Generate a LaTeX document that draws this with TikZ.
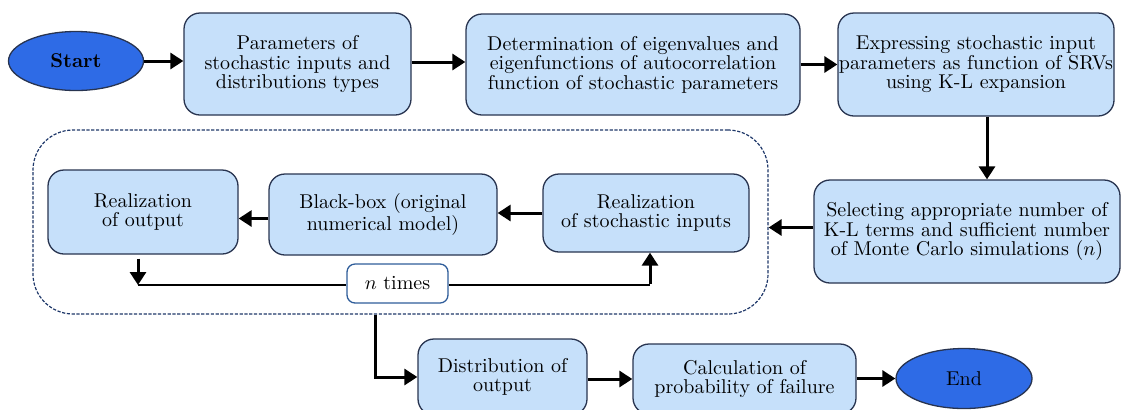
\documentclass[tikz,border=0pt]{standalone}
\usetikzlibrary{arrows.meta,shapes.geometric}
\definecolor{boxfill}{RGB}{198,224,250}
\definecolor{boxdraw}{RGB}{40,52,80}
\definecolor{ellfill}{RGB}{46,107,230}
\definecolor{dashdraw}{RGB}{30,55,105}
\definecolor{ntdraw}{RGB}{47,93,154}
\begin{document}
\begin{tikzpicture}[x=0.5pt,y=-0.5pt,
  font=\fontsize{10}{9.8}\selectfont,
  procbox/.style={draw=boxdraw, fill=boxfill, rounded corners=8pt, line width=0.65pt, align=center, inner sep=0pt},
  term/.style={ellipse, draw=boxdraw, fill=ellfill, line width=0.65pt, inner sep=0pt},
  flow/.style={line width=1.5pt, -{Triangle[length=6.5pt,width=8pt]}},
  loopline/.style={line width=0.85pt},
  frame/.style={draw=dashdraw, dash pattern=on 1.6pt off 0.8pt, line width=0.6pt, rounded corners=20pt, inner sep=0pt},
  counter/.style={draw=ntdraw, fill=white, rounded corners=4pt, line width=0.65pt, inner sep=0pt}
]
\useasboundingbox (0,0) rectangle (1122,409);

\node[frame, minimum width=367.5pt, minimum height=92pt] (loop) at (400.5,222) {};

\node[term, minimum width=67.5pt, minimum height=29.5pt, font=\fontsize{10}{10}\selectfont\bfseries] (start) at (76,61) {Start};
\node[procbox, minimum width=113.5pt, minimum height=51pt] (p1) at (297.5,64) {Parameters of\\stochastic inputs and\\distributions types};
\node[procbox, minimum width=167pt, minimum height=50.5pt] (p2) at (633,64.5) {Determination of eigenvalues and\\eigenfunctions of autocorrelation\\function of stochastic parameters};
\node[procbox, minimum width=138pt, minimum height=51.5pt] (p3) at (976,64.5) {Expressing stochastic input\\parameters as function of SRVs\\using K-L expansion};
\node[procbox, minimum width=153pt, minimum height=51.5pt] (p4) at (967,231.5) {Selecting appropriate number of\\K-L terms and sufficient number\\of Monte Carlo simulations ($n$)};
\node[procbox, minimum width=103pt, minimum height=39pt] (p5) at (646,213) {Realization\\of stochastic inputs};
\node[procbox, minimum width=114pt, minimum height=40.5pt] (p6) at (383,214.5) {Black-box (original\\numerical model)};
\node[procbox, minimum width=95pt, minimum height=42pt] (p7) at (143,212) {Realization\\of output};
\node[counter, minimum width=50.5pt, minimum height=19.5pt] (nt) at (397.5,283.5) {$n$ times};
\node[procbox, minimum width=84.5pt, minimum height=38pt] (p8) at (502.5,377) {Distribution of\\output};
\node[procbox, minimum width=111.5pt, minimum height=35pt] (p9) at (744.5,379) {Calculation of\\probability of failure};
\node[term, minimum width=68pt, minimum height=30pt] (end) at (964,378.5) {End};

\coordinate (c1) at (138,285);
\coordinate (c2) at (650,285);

\draw[flow] (start.east) -- (start.east -| p1.west);
\draw[flow] ([yshift=1pt]p1.east) -- ([yshift=1pt]p1.east -| p2.west);
\draw[flow] (p2.east) -- (p3.west);
\draw[flow] ([xshift=5.5pt]p3.south) -- ([xshift=5.5pt]p3.south |- p4.north);
\draw[flow] ([yshift=2pt]p4.west) -- ([yshift=2pt]p4.west -| loop.east);
\draw[flow] (p5.west) -- (p5.west -| p6.east);
\draw[flow] ([yshift=-2pt]p6.west) -- ([yshift=-2pt]p6.west -| p7.east);
\draw[flow, shorten <=2pt] (p7.south -| c1) -- (c1);
\draw[loopline] (c1) -- (c1 -| nt.west);
\draw[loopline] (c1 -| nt.east) -- (c2);
\draw[flow] ([yshift=0.4pt]c2) -- (c2 |- p5.south);
\draw[flow] ([xshift=-12.75pt]loop.south) |- (p8.west);
\draw[flow] (p8.east |- p9.west) -- (p9.west);
\draw[flow] (end.west -| p9.east) -- (end.west);
\end{tikzpicture}
\end{document}
